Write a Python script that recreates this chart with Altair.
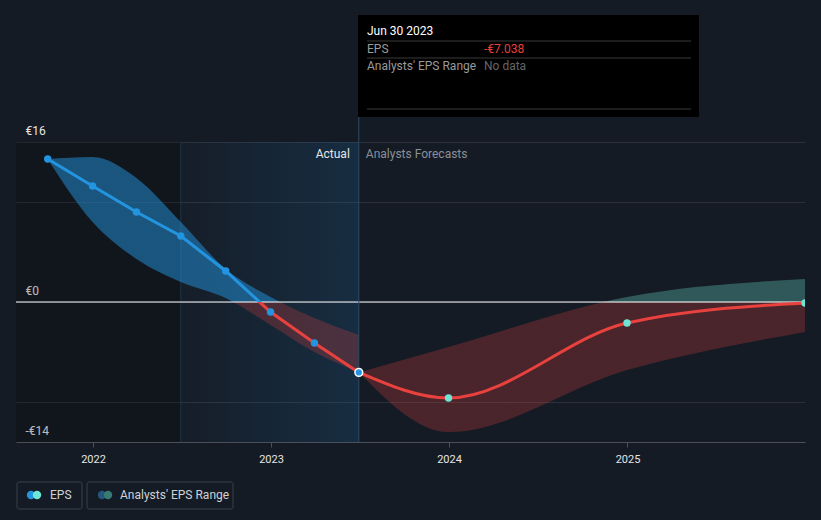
import altair as alt
import pandas as pd

# ---- data ----
actual_dates = ["2021-09-30", "2021-12-31", "2022-03-31", "2022-06-30",
                "2022-09-30", "2022-12-31", "2023-03-31", "2023-06-30"]
actual_eps = [14.3, 11.6, 9.0, 6.6, 3.1, -1.0, -4.1, -7.038]
actual_high = [14.3, 14.5, 12.4, 8.0, 3.3, 0.5, -1.6, -3.3]
actual_low = [14.3, 8.0, 4.3, 2.0, 0.4, -2.3, -5.0, -7.038]

forecast_dates = ["2023-06-30", "2023-12-31", "2024-12-31", "2025-12-31"]
forecast_eps = [-7.038, -9.6, -2.1, -0.1]
forecast_high = [-7.038, -4.5, 0.5, 2.3]
forecast_low = [-7.038, -13.0, -6.8, -3.0]

period_start = ["2021-07-27", "2022-06-30"]
period_end = ["2022-06-30", "2023-06-30"]
split_date = "2023-06-30"

y_ticks = [16, 10, 0, -10, -14]
x_years = [2022, 2023, 2024, 2025]

BG = "#151b24"
BLUE = "#2394df"
RED = "#e8413e"
TEAL = "#6ee5d6"
FONT = "Roboto"

actual = pd.DataFrame({"date": actual_dates, "eps": actual_eps,
                       "high": actual_high, "low": actual_low})
forecast = pd.DataFrame({"date": forecast_dates, "eps": forecast_eps,
                         "high": forecast_high, "low": forecast_low})
periods = pd.DataFrame({"start": period_start, "end": period_end, "kind": ["past", "actual"]})
split = pd.DataFrame({"date": [split_date], "eps": [actual_eps[-1]]})
one = alt.Data(values=[{}])


def vgrad(top, bottom, above, below):
    off = max(0.0, min(1.0, top / (top - bottom))) if top > 0 else 0.0
    return alt.LinearGradient(
        gradient="linear", x1=0, x2=0, y1=0, y2=1,
        stops=[alt.GradientStop(color=above, offset=0),
               alt.GradientStop(color=above, offset=off),
               alt.GradientStop(color=below, offset=off),
               alt.GradientStop(color=below, offset=1)])


xscale = alt.Scale(type="utc", nice=False,
                   domain=[alt.DateTime(year=2021, month=7, date=27, utc=True),
                           alt.DateTime(year=2025, month=12, date=31, utc=True)])
yscale = alt.Scale(domain=[-14, 16], nice=False, zero=False)

xaxis = alt.Axis(values=[alt.DateTime(year=y, month=1, date=1, utc=True) for y in x_years],
                 labelExpr="utcFormat(datum.value, '%Y')", grid=False,
                 domainColor="#4a4f59", tickColor="#4a4f59", tickSize=5,
                 labelColor="#e6e6e6", labelFontSize=11, labelFont=FONT,
                 labelPadding=6, title=None)
yaxis = alt.Axis(values=y_ticks, grid=True, gridColor="#2b303b", domain=False, ticks=False,
                 labelExpr="datum.value == 16 ? '€16' : datum.value == 0 ? '€0' : datum.value == -14 ? '-€14' : ''",
                 labelAlign="left", labelPadding=-9, labelBaseline="bottom", labelOffset=-5,
                 labelColor="#e6e6e6", labelFontSize=12, labelFont=FONT,
                 labelOverlap=False, title=None)

X = lambda f="date": alt.X(f"{f}:T", scale=xscale, axis=xaxis)

# background period bands
past_rect = alt.Chart(periods).transform_filter("datum.kind == 'past'").mark_rect(
    fill="rgba(0,0,0,0.18)").encode(x=X("start"), x2="end:T",
                                       y=alt.value(0), y2=alt.value(300))
act_rect = alt.Chart(periods).transform_filter("datum.kind == 'actual'").mark_rect(
    fill=alt.LinearGradient(gradient="linear", x1=0, x2=1, y1=0, y2=0,
                            stops=[alt.GradientStop(color="rgba(30,110,170,0.03)", offset=0),
                                   alt.GradientStop(color="rgba(30,110,170,0.22)", offset=1)])
).encode(x=X("start"), x2="end:T", y=alt.value(0), y2=alt.value(300))
act_edge = alt.Chart(periods).transform_filter("datum.kind == 'actual'").mark_rule(
    color="#203449", strokeWidth=1).encode(x=X("start"), y=alt.value(0), y2=alt.value(300))

# analyst range bands
a_top, a_bot = max(actual_high), min(actual_low)
area_actual = alt.Chart(actual).mark_area(
    interpolate="monotone",
    fill=vgrad(a_top, a_bot, "rgba(35,148,223,0.5)", "rgba(232,65,62,0.25)")
).encode(x=X(), y=alt.Y("high:Q", scale=yscale, axis=yaxis), y2="low:Q")

f_top, f_bot = max(forecast_high), min(forecast_low)
area_fc = alt.Chart(forecast).mark_area(
    interpolate="monotone",
    fill=vgrad(f_top, f_bot, "rgba(110,229,214,0.3)", "rgba(232,65,62,0.25)")
).encode(x=X(), y=alt.Y("high:Q", scale=yscale), y2="low:Q")

zero = alt.Chart(pd.DataFrame({"v": [0]})).mark_rule(color="#ffffff", strokeWidth=1).encode(
    y=alt.Y("v:Q", scale=yscale), x=alt.value(0), x2=alt.value(789))

# EPS lines
l_top, l_bot = max(actual_eps), min(actual_eps)
line_actual = alt.Chart(actual).mark_line(
    strokeWidth=3, stroke=vgrad(l_top, l_bot, BLUE, RED)
).encode(x=X(), y=alt.Y("eps:Q", scale=yscale))
line_fc = alt.Chart(forecast).mark_line(
    strokeWidth=3, interpolate="monotone", color=RED
).encode(x=X(), y=alt.Y("eps:Q", scale=yscale))

pts_actual = alt.Chart(actual.iloc[:-1]).mark_circle(size=55, color=BLUE, opacity=1).encode(
    x=X(), y=alt.Y("eps:Q", scale=yscale))
pts_fc = alt.Chart(forecast.iloc[1:]).mark_circle(size=55, color=TEAL, opacity=1, clip=True).encode(
    x=X(), y=alt.Y("eps:Q", scale=yscale))
pt_hover = alt.Chart(split).mark_point(size=60, filled=True, fill=BLUE, stroke="white",
                                       strokeWidth=1.5, opacity=1).encode(
    x=X(), y=alt.Y("eps:Q", scale=yscale))

cross = alt.Chart(split).mark_rule(color="#2e4a66", strokeWidth=1).encode(
    x=X(), y=alt.value(-25), y2=alt.value(300))
lbl_actual = alt.Chart(split).mark_text(text="Actual", align="right", baseline="middle", dx=-9,
                                        color="#e6e6e6", fontSize=12, font=FONT).encode(
    x=X(), y=alt.value(12))
lbl_fc = alt.Chart(split).mark_text(text="Analysts Forecasts", align="left", baseline="middle", dx=7,
                                    color="#8a8f98", fontSize=12, font=FONT).encode(
    x=X(), y=alt.value(12))

# tooltip box
tip_box = alt.Chart(one).mark_rect(fill="#000000").encode(
    x=alt.value(342), x2=alt.value(683), y=alt.value(-127), y2=alt.value(-25))
tip_lines = [alt.Chart(one).mark_rule(color="#3a3a3a").encode(
    x=alt.value(351), x2=alt.value(675), y=alt.value(yy)) for yy in (-101, -84, -33)]


def txt(s, x, y, color, size=12, weight="normal"):
    return alt.Chart(one).mark_text(text=s, align="left", baseline="middle", color=color,
                                    fontSize=size, font=FONT, fontWeight=weight).encode(
        x=alt.value(x), y=alt.value(y))


tip_texts = [txt("Jun 30 2023", 351, -111, "#ffffff"),
             txt("EPS", 351, -93, "#9a9a9a"),
             txt("-€7.038", 468, -93, RED),
             txt("Analysts' EPS Range", 351, -76, "#9a9a9a"),
             txt("No data", 468, -76, "#666666")]

# legend
leg_boxes = [alt.Chart(one).mark_rect(fill=BG, stroke="#3b404b", strokeWidth=1, cornerRadius=2).encode(
    x=alt.value(x0), x2=alt.value(x1), y=alt.value(340), y2=alt.value(367))
    for x0, x1 in ((1, 66), (71, 217))]


def dot(x, color):
    return alt.Chart(one).mark_circle(size=70, color=color, opacity=1).encode(
        x=alt.value(x), y=alt.value(353))


leg_marks = [dot(15, BLUE), dot(21, TEAL), dot(86, "#24567e"), dot(92, "#3a7a74"),
             txt("EPS", 34, 353, "#cfd2d6"), txt("Analysts' EPS Range", 104, 353, "#cfd2d6")]

chart = alt.layer(
    past_rect, act_rect, act_edge, area_actual, area_fc, zero,
    line_actual, line_fc, pts_actual, pts_fc, cross, pt_hover,
    lbl_actual, lbl_fc, tip_box, *tip_lines, *tip_texts, *leg_boxes, *leg_marks
).properties(
    width=789, height=300,
    autosize=alt.AutoSizeParams(type="none"),
    padding={"left": 8, "top": 134, "right": 8, "bottom": 70},
    background=BG
).configure_view(stroke=None)

chart.save("out.html", embed_options={"renderer": "svg", "actions": False,
                                      "defaultStyle": "html, body { background: #151b24; }"})
